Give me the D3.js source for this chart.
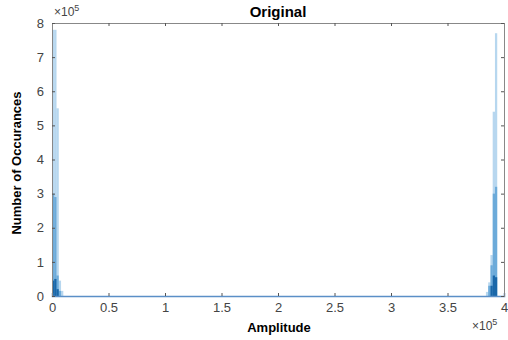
<!DOCTYPE html>
<html>
<head>
<meta charset="utf-8">
<script src="https://cdn.jsdelivr.net/npm/d3@7"></script>
<style>
  body { margin: 0; background: #fff; }
  text { font-family: "Liberation Sans", Arial, sans-serif; }
</style>
</head>
<body>
<div id="chart"></div>
<script>
// histogram bins (amplitude start of each bin) and counts
const binWidth = 2000;
const lightBins = [0, 2000, 4000, 6000, 8000, 384000, 386000, 388000, 390000, 392000];
const lightCounts = [780000, 780000, 550000, 45000, 15000, 12000, 40000, 120000, 540000, 770000];
const midBins = [0, 2000, 4000, 6000, 386000, 388000, 390000, 392000];
const midCounts = [300000, 290000, 60000, 15000, 30000, 90000, 300000, 320000];
const darkBins = [0, 2000, 4000, 388000, 390000, 392000];
const darkCounts = [45000, 50000, 20000, 30000, 60000, 55000];

const xTicks = [0, 50000, 100000, 150000, 200000, 250000, 300000, 350000, 400000];
const xTickLabels = ["0", "0.5", "1", "1.5", "2", "2.5", "3", "3.5", "4"];
const yTicks = [0, 100000, 200000, 300000, 400000, 500000, 600000, 700000, 800000];
const yTickLabels = ["0", "1", "2", "3", "4", "5", "6", "7", "8"];

const W = 508, H = 340;
const margin = {top: 23, right: 4, bottom: 44, left: 52};

const svg = d3.select("#chart").append("svg")
    .attr("width", W)
    .attr("height", H);

const x = d3.scaleLinear().domain([0, 400000]).range([margin.left, W - margin.right]);
const y = d3.scaleLinear().domain([0, 800000]).range([H - margin.bottom, margin.top]);

// the three overlapping histograms
function drawBars(bins, counts, color, alpha) {
    svg.append("g")
        .selectAll("rect")
        .data(bins.map((b, i) => ({b, c: counts[i]})))
        .join("rect")
        .attr("x", d => x(d.b))
        .attr("width", d => x(d.b + binWidth) - x(d.b))
        .attr("y", d => y(d.c))
        .attr("height", d => y(0) - y(d.c))
        .attr("fill", color)
        .attr("fill-opacity", alpha);
}
drawBars(lightBins, lightCounts, "#6fb0e0", 0.5);
drawBars(midBins, midCounts, "#2f86c8", 0.55);
drawBars(darkBins, darkCounts, "#0b5aa0", 0.85);

// axes - matlab style box with inward ticks
const tickColor = "#555";
const bottomAxis = svg.append("g")
    .attr("transform", `translate(0,${y(0)})`)
    .call(d3.axisBottom(x).tickValues(xTicks).tickSize(-3).tickPadding(7)
        .tickFormat((d, i) => xTickLabels[i]));
bottomAxis.select(".domain").attr("stroke", "#5b8fc7").attr("stroke-width", 1.5);

const topAxis = svg.append("g")
    .attr("transform", `translate(0,${margin.top})`)
    .call(d3.axisTop(x).tickValues(xTicks).tickSize(-3).tickFormat(""));

const leftAxis = svg.append("g")
    .attr("transform", `translate(${margin.left},0)`)
    .call(d3.axisLeft(y).tickValues(yTicks).tickSize(-3).tickPadding(8)
        .tickFormat((d, i) => yTickLabels[i]));

const rightAxis = svg.append("g")
    .attr("transform", `translate(${W - margin.right},0)`)
    .call(d3.axisRight(y).tickValues(yTicks).tickSize(-3).tickFormat(""));

[bottomAxis, topAxis, leftAxis, rightAxis].forEach(a => {
    a.selectAll(".tick line").attr("stroke", tickColor);
    a.selectAll("text").attr("fill", "#444").style("font-size", "13px");
});
[topAxis, leftAxis, rightAxis].forEach(a => a.select(".domain").attr("stroke", "#888"));

// exponent labels
function exponent(px, py) {
    const t = svg.append("text").attr("x", px).attr("y", py)
        .attr("fill", "#444").style("font-size", "12px");
    t.append("tspan").text("\u00d710");
    t.append("tspan").attr("dy", -5).style("font-size", "9px").text("5");
}
exponent(54, 16);
exponent(472, 330);

// title and axis labels
svg.append("text")
    .attr("x", 278).attr("y", 17)
    .attr("text-anchor", "middle")
    .style("font-size", "15px").style("font-weight", "bold")
    .text("Original");

svg.append("text")
    .attr("x", 279).attr("y", 332)
    .attr("text-anchor", "middle")
    .style("font-size", "13px").style("font-weight", "bold")
    .text("Amplitude");

svg.append("text")
    .attr("transform", "translate(21,163) rotate(-90)")
    .attr("text-anchor", "middle")
    .style("font-size", "13px").style("font-weight", "bold")
    .text("Number of Occurances");
</script>
</body>
</html>
